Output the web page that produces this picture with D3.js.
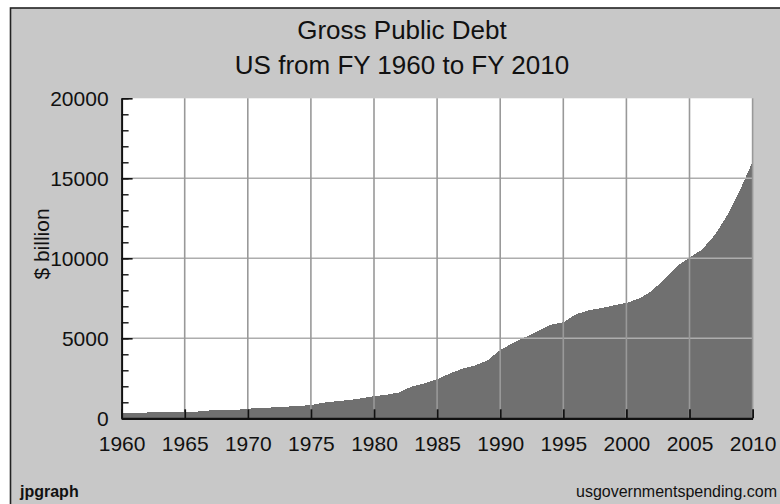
<!DOCTYPE html>
<html><head><meta charset="utf-8">
<script src="https://cdn.jsdelivr.net/npm/d3@7/dist/d3.min.js"></script>
<style>body{margin:0;background:#fff;overflow:hidden}text{font-family:"Liberation Sans",Arial,sans-serif;fill:#111}</style>
</head><body>
<svg id="c" width="780" height="504"></svg>
<script>
const years = [1960,1961,1962,1963,1964,1965,1966,1967,1968,1969,1970,1971,1972,1973,1974,1975,1976,1977,1978,1979,1980,1981,1982,1983,1984,1985,1986,1987,1988,1989,1990,1991,1992,1993,1994,1995,1996,1997,1998,1999,2000,2001,2002,2003,2004,2005,2006,2007,2008,2009,2010];
const debt = [360,360,362,364,366,370,420,490,505,520,600,650,680,730,760,830,980,1060,1140,1250,1380,1470,1620,1990,2180,2440,2800,3100,3300,3620,4270,4700,5080,5450,5850,6000,6500,6750,6880,7060,7210,7480,7950,8700,9500,10050,10550,11450,12700,14250,16050];
const xTickYears = [1960,1965,1970,1975,1980,1985,1990,1995,2000,2005,2010];
const yTickValues = [0,5000,10000,15000,20000];
const yMinorValues = d3.range(0,20001,1000);
const titleText = "Gross Public Debt";
const subtitleText = "US from FY 1960 to FY 2010";
const yAxisLabel = "$ billion";

const svg = d3.select("#c");
const L=121.6, R=752.6, T=98.3, B=418.3;
const x = d3.scaleLinear().domain([1960,2010]).range([L,R]);
const y = d3.scaleLinear().domain([0,20000]).range([B,T]);

// frame background
svg.append("rect").attr("x",10.5).attr("y",8).attr("width",800).attr("height",520)
  .attr("fill","#c8c8c8").attr("stroke","#222").attr("stroke-width",1.6);

// plot area
svg.append("rect").attr("x",L).attr("y",T).attr("width",R-L).attr("height",B-T).attr("fill","#fff");

// area
const area = d3.area().x((d,i)=>x(years[i])).y0(y(0)).y1(d=>y(d));
svg.append("path").datum(debt).attr("d",area).attr("fill","#707070").attr("shape-rendering","crispEdges");

// grid
svg.append("g").selectAll("line").data(yTickValues.filter(v=>v>0 && v<20000)).join("line")
  .attr("x1",L).attr("x2",R).attr("y1",d=>y(d)).attr("y2",d=>y(d))
  .attr("stroke","#adadad").attr("stroke-width",1.6);
svg.append("g").selectAll("line").data(xTickYears.filter(v=>v>1960)).join("line")
  .attr("x1",d=>x(d)).attr("x2",d=>x(d)).attr("y1",T).attr("y2",B)
  .attr("stroke","#999").attr("stroke-width",1.6);

// y minor ticks
svg.append("g").attr("transform",`translate(${L},0)`)
  .call(d3.axisLeft(y).tickValues(yMinorValues).tickSize(-7).tickFormat(""))
  .call(g=>g.select(".domain").remove())
  .call(g=>g.selectAll("line").attr("stroke","#111").attr("stroke-width",1.4));

// y axis
const ya = svg.append("g").attr("transform",`translate(${L},0)`)
  .call(d3.axisLeft(y).tickValues(yTickValues).tickSizeInner(-11).tickSizeOuter(0).tickPadding(13).tickFormat(d3.format("d")));
ya.select(".domain").attr("stroke","#111").attr("stroke-width",2);
ya.selectAll(".tick line").attr("stroke","#111").attr("stroke-width",1.6);
ya.selectAll("text").attr("font-size",21).attr("dy","0.36em").style("fill","#111");

// x axis
const xa = svg.append("g").attr("transform",`translate(0,${B})`)
  .call(d3.axisBottom(x).tickValues(xTickYears).tickSizeInner(-9).tickSizeOuter(0).tickPadding(18).tickFormat(d3.format("d")));
xa.select(".domain").attr("stroke","#111").attr("stroke-width",2.2);
xa.selectAll(".tick line").attr("stroke","#111").attr("stroke-width",1.8);
xa.selectAll("text").attr("font-size",21).style("fill","#111");

// titles
svg.append("text").attr("x",402).attr("y",39).attr("text-anchor","middle").attr("font-size",26).text(titleText);
svg.append("text").attr("x",402).attr("y",74).attr("text-anchor","middle").attr("font-size",26).text(subtitleText);
svg.append("text").attr("transform","translate(49,244) rotate(-90)").attr("text-anchor","middle").attr("font-size",21).text(yAxisLabel);

// footers
svg.append("text").attr("x",20).attr("y",497).attr("font-size",16).attr("font-weight","bold").text("jpgraph");
svg.append("text").attr("x",777).attr("y",497).attr("text-anchor","end").attr("font-size",16).text("usgovernmentspending.com");
</script>
</body></html>
